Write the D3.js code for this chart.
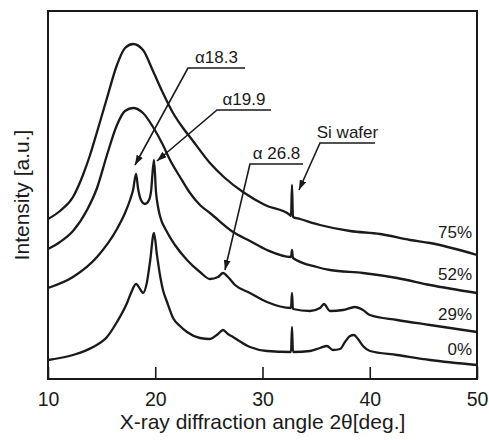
<!DOCTYPE html>
<html>
<head>
<meta charset="utf-8">
<script src="https://cdn.jsdelivr.net/npm/d3@7"></script>
<style>
  body { margin: 0; background: #fff; }
  text { font-family: "Liberation Sans", Arial, sans-serif; fill: #1a1a1a; }
</style>
</head>
<body>
<script>
// XRD patterns, [2theta in deg, intensity a.u.]
const p75 = [[10.0,160],[11.12,168],[12.33,182],[13.26,204],[13.92,224],[14.57,247],[15.5,281],[16.43,314],
  [17.18,331],[17.93,335],[18.86,329],[19.79,308],[20.72,286],[21.66,266],[22.59,251],[23.52,238],[25.1,216],
  [26.5,201],[28.18,187],[30.23,174],[32.56,164],[32.66,163],[32.75,194],[32.84,162],[33.5,160],[35.36,154],
  [38.16,148],[40.96,145],[43.75,139],[45.62,136],[50.0,124]];
const p52 = [[10.0,130],[11.12,137],[12.33,148],[13.64,169],[14.57,191],[15.5,224],[16.43,254],[17.18,268],
  [17.93,271],[18.86,266],[19.79,252],[20.72,234],[21.38,219],[22.31,202],[23.24,186],[24.17,174],[25.1,166],
  [27.25,147],[28.83,138],[30.42,129],[32.66,122],[32.75,129],[32.84,121],[35.08,112],[36.29,109],[39.37,106],
  [42.54,101],[45.62,94],[50.0,86]];
const p29 = [[10.0,91],[12.33,102],[14.57,122],[16.43,150],[17.18,166],[17.65,179],[17.93,189],[18.21,205],
  [18.39,191],[18.67,179],[19.04,175],[19.42,179],[19.6,187],[19.88,219],[20.07,187],[20.26,172],[20.44,163],
  [21.1,147],[21.84,134],[22.96,119],[24.17,107],[25.1,100],[25.85,102],[26.32,106],[26.78,102],[27.44,94],
  [28.83,86],[30.42,77],[32.66,71],[32.75,86],[32.84,70],[34.43,68],[35.36,71],[35.73,75],[36.29,68],
  [37.51,69],[38.62,72],[39.37,69],[40.02,64],[42.54,59],[45.62,54],[50.0,47]];
const p0 = [[10.0,19],[12.33,24],[14.2,32],[15.5,42],[16.43,57],[17.37,76],[17.74,86],[18.21,95],[18.58,90],
  [18.86,86],[19.23,97],[19.51,117],[19.88,146],[20.16,124],[20.44,104],[20.72,89],[21.1,77],[21.66,61],
  [22.31,53],[22.96,47],[24.17,41],[25.1,40],[25.85,45],[26.32,49],[26.78,45],[27.25,42],[28.83,32],
  [30.42,28],[32.66,27],[32.75,52],[32.84,27],[34.43,28],[35.36,31],[36.01,33],[36.57,29],[37.23,30],
  [37.69,37],[38.16,43],[38.53,44],[38.9,40],[39.37,33],[40.02,28],[42.54,24],[45.62,19],[50.0,14]];

const seriesNames = ["75%", "52%", "29%", "0%"];
const seriesData = [p75, p52, p29, p0];
const xTicks = [10, 20, 30, 40, 50];

// peak callouts: tip of arrow, elbow, end of the underline (deg)
const noteText = ["\u03b118.3", "\u03b119.9", "\u03b1 26.8", "Si wafer"];
const noteTip = [[18.11, 214], [20.16, 218], [26.5, 109], [33.4, 189]];
const noteElbow = [[23.05, 311], [25.76, 269], [28.83, 215], [35.36, 236]];
const noteEnd = [28.37, 30.79, 33.78, 40.49];

const W = 489, H = 440;
const m = {top: 11, right: 12, bottom: 61, left: 48};

const svg = d3.select("body").append("svg")
  .attr("width", W).attr("height", H);

svg.append("defs").append("marker")
  .attr("id", "arr").attr("markerUnits", "userSpaceOnUse")
  .attr("markerWidth", 10).attr("markerHeight", 7)
  .attr("refX", 10).attr("refY", 3.5).attr("orient", "auto")
  .append("path").attr("d", "M0,0L10,3.5L0,7Z").attr("fill", "#1a1a1a");

const x = d3.scaleLinear().domain([10, 50]).range([m.left, W - m.right]);
const y = d3.scaleLinear().domain([0, 368]).range([H - m.bottom, m.top]);

const line = d3.line().x(d => x(d[0])).y(d => y(d[1])).curve(d3.curveMonotoneX);

svg.selectAll("path.xrd")
  .data(seriesData).enter()
  .append("path").attr("class", "xrd")
  .attr("d", line)
  .attr("fill", "none").attr("stroke", "#1a1a1a")
  .attr("stroke-width", 2.3).attr("stroke-linejoin", "round");

// x axis with inward ticks
const xAxis = svg.append("g")
  .attr("transform", "translate(0," + (H - m.bottom) + ")")
  .call(d3.axisBottom(x).tickValues(xTicks).tickFormat(d3.format("d"))
    .tickSizeInner(-12).tickSizeOuter(0).tickPadding(13));
xAxis.select(".domain").remove();
xAxis.selectAll("line").attr("stroke", "#1a1a1a").attr("stroke-width", 1.6);
xAxis.selectAll("text").attr("font-size", 19.5)
  .attr("font-family", "'Liberation Sans', Arial, sans-serif").attr("fill", "#1a1a1a");

// frame
svg.append("rect")
  .attr("x", m.left).attr("y", m.top)
  .attr("width", W - m.left - m.right).attr("height", H - m.top - m.bottom)
  .attr("fill", "none").attr("stroke", "#1a1a1a").attr("stroke-width", 2);

// series labels
svg.selectAll("text.pct")
  .data(seriesData).enter()
  .append("text").attr("class", "pct")
  .attr("x", x(50) - 5)
  .attr("y", d => y(d.find(p => p[0] === 45.62)[1]) - 5)
  .attr("text-anchor", "end").attr("font-size", 17)
  .text((d, i) => seriesNames[i]);

// callouts
noteText.forEach((t, i) => {
  const ex = x(noteElbow[i][0]), ey = y(noteElbow[i][1]);
  const endX = x(noteEnd[i]);
  svg.append("polyline")
    .attr("points", [[endX, ey], [ex, ey], [x(noteTip[i][0]), y(noteTip[i][1])]].join(" "))
    .attr("fill", "none").attr("stroke", "#1a1a1a").attr("stroke-width", 1.6)
    .attr("marker-end", "url(#arr)");
  svg.append("text")
    .attr("x", (ex + endX) / 2).attr("y", ey - 5)
    .attr("text-anchor", "middle").attr("font-size", 17)
    .text(t);
});

// axis titles
svg.append("text")
  .attr("x", (x(10) + x(50)) / 2).attr("y", 428.5)
  .attr("text-anchor", "middle").attr("font-size", 21)
  .text("X-ray diffraction angle 2\u03b8[deg.]");

svg.append("text")
  .attr("transform", "translate(29,195) rotate(-90)")
  .attr("text-anchor", "middle").attr("font-size", 21)
  .text("Intensity [a.u.]");
</script>
</body>
</html>
